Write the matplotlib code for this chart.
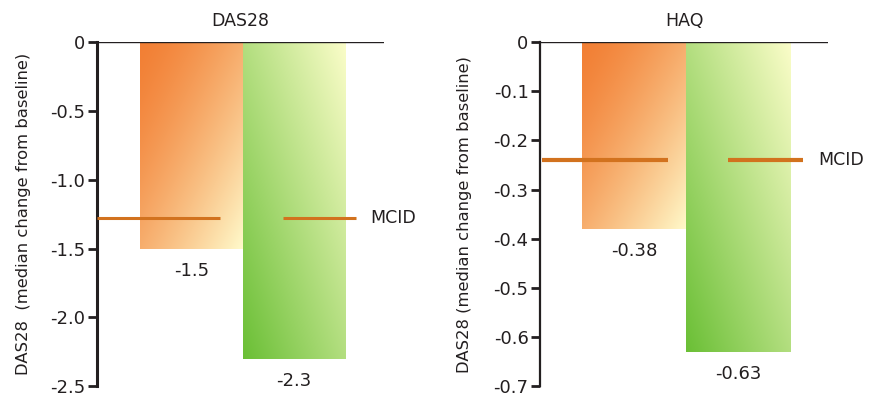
import numpy as np
import matplotlib
matplotlib.use('Agg')
import matplotlib.pyplot as plt
from matplotlib.colors import to_rgb

# 数据
panel_titles = ['DAS28', 'HAQ']
das28_values = [-1.5, -2.3]
haq_values = [-0.38, -0.63]
das28_labels = ['-1.5', '-2.3']
haq_labels = ['-0.38', '-0.63']
mcid_values = [-1.28, -0.24]
das28_ticks = [0, -0.5, -1.0, -1.5, -2.0, -2.5]
das28_ticklabels = ['0', '-0.5', '-1.0', '-1.5', '-2.0', '-2.5']
haq_ticks = [0, -0.1, -0.2, -0.3, -0.4, -0.5, -0.6, -0.7]
haq_ticklabels = ['0', '-0.1', '-0.2', '-0.3', '-0.4', '-0.5', '-0.6', '-0.7']
ylabels = ['DAS28  (median change from baseline)', 'DAS28 (median change from baseline)']

plt.rcParams['font.family'] = ['DejaVu Sans']
plt.rcParams['font.size'] = 12

text_color = '#231f20'
mcid_color = '#d2721e'
orange_dark, orange_light = to_rgb('#f27f34'), to_rgb('#fffacb')
green_dark, green_light = to_rgb('#6abf35'), to_rgb('#fbfdc9')


# 在柱子内填充对角渐变
def gradient_fill(ax, bar, c_dark, c_light, dark_at_top, gamma=1.0):
    n = 200
    u = np.linspace(0, 1, n)[None, :]
    v = np.linspace(0, 1, n)[:, None]
    if dark_at_top:
        t = (u + v) / 2
    else:
        t = (u + (1 - v)) / 2
    t = t ** gamma
    c0 = np.array(c_dark)
    c1 = np.array(c_light)
    img = c0 + (c1 - c0) * t[..., None]
    x0, x1 = bar.get_x(), bar.get_x() + bar.get_width()
    y = bar.get_height()
    im = ax.imshow(img, extent=(x0, x1, y, 0), origin='upper', aspect='auto', zorder=1)
    im.set_clip_path(bar)
    bar.set_facecolor('none')


def draw_panel(ax, title, values, labels, mcid, ticks, ticklabels, ylabel,
               xlim, seg1, seg2, mcid_x, mcid_lw, spine_lw, label_x):
    x = np.arange(len(values))
    bars = ax.bar(x, values, width=1.0, linewidth=0, zorder=1)
    gradient_fill(ax, bars[0], orange_dark, orange_light, True, gamma=1.4)
    gradient_fill(ax, bars[1], green_dark, green_light, False)

    # 数值标签
    for xi, v, s in zip(x, values, labels):
        ax.annotate(s, (xi, v), xytext=(0, -16), textcoords='offset points',
                    ha='center', va='center', color=text_color, fontsize=13)

    # MCID 线
    ax.plot(seg1, [mcid, mcid], color=mcid_color, lw=mcid_lw, zorder=3, solid_capstyle='butt')
    ax.plot(seg2, [mcid, mcid], color=mcid_color, lw=mcid_lw, zorder=3, solid_capstyle='butt')
    ax.text(mcid_x, mcid, 'MCID', ha='left', va='center', color=text_color, fontsize=12.5)

    ax.axhline(0, color=text_color, lw=1.0, zorder=2)

    ax.set_xlim(*xlim)
    ax.set_ylim(ticks[-1], 0)
    ax.set_yticks(ticks)
    ax.set_yticklabels(ticklabels, color=text_color, fontsize=13)
    ax.set_xticks([])
    for s in ['top', 'right', 'bottom']:
        ax.spines[s].set_visible(False)
    ax.spines['left'].set_linewidth(spine_lw)
    ax.spines['left'].set_color(text_color)
    ax.tick_params(axis='y', length=6.5, width=2, color=text_color, pad=2)
    ax.set_title(title, fontsize=12.5, color=text_color, pad=12)
    ax.set_ylabel(ylabel, fontsize=11.8, color=text_color)
    ax.yaxis.set_label_coords(label_x, 0.5)


fig = plt.figure(figsize=(8.8, 3.98), dpi=100)
ax1 = fig.add_axes([0.110, 0.030, 0.326, 0.864])
ax2 = fig.add_axes([0.614, 0.030, 0.327, 0.864])

draw_panel(ax1, panel_titles[0], das28_values, das28_labels, mcid_values[0],
           das28_ticks, das28_ticklabels, ylabels[0],
           (-0.92, 1.87), [-0.92, 0.28], [0.89, 1.60], 1.74, 2.2, 2.2, -0.23)
draw_panel(ax2, panel_titles[1], haq_values, haq_labels, mcid_values[1],
           haq_ticks, haq_ticklabels, ylabels[1],
           (-0.90, 1.865), [-0.885, 0.33], [0.90, 1.62], 1.77, 3.0, 1.6, -0.236)

fig.savefig('out.png', dpi=100)
